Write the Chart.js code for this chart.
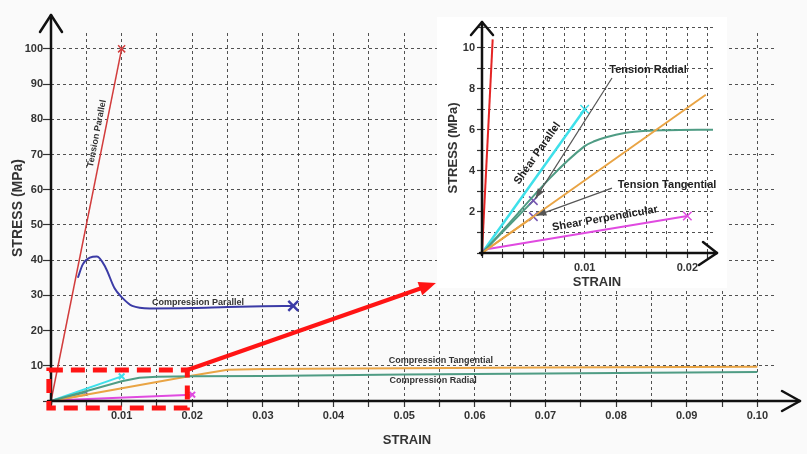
<!DOCTYPE html>
<html>
<head>
<meta charset="utf-8">
<title>Stress-strain curves of wood</title>
<script src="https://cdn.jsdelivr.net/npm/chart.js@4.4.0/dist/chart.umd.min.js"></script>
<style>
  html, body { margin: 0; padding: 0; background: #fafafa; }
  #wrap { position: relative; width: 807px; height: 454px; overflow: hidden; }
  #mainChart { position: absolute; left: 0; top: 0; }
  #insetChart { position: absolute; left: 437px; top: 17px; background: #fff; }
</style>
</head>
<body>
<div id="wrap">
  <canvas id="mainChart" width="807" height="454"></canvas>
  <canvas id="insetChart" width="290" height="271"></canvas>
</div>
<script>
// main chart: strain (-) and stress (MPa)
const tensionParallelStrain = [0, 0.01];
const tensionParallelStress = [0, 100];
const compParallelStrain = [0.0038, 0.0045, 0.0055, 0.0065, 0.0077, 0.009, 0.01, 0.0115, 0.014, 0.02, 0.025, 0.03, 0.0343];
const compParallelStress = [35, 38.8, 40.7, 41, 38, 32, 29.5, 27, 26.3, 26.4, 26.7, 26.9, 27];
const compTangStrain = [0, 0.0195, 0.022, 0.025, 0.03, 0.05, 0.07, 0.1];
const compTangStress = [0, 7.0, 7.9, 8.9, 9.1, 9.3, 9.5, 9.7];
const compRadialStrain = [0, 0.01, 0.0125, 0.015, 0.02, 0.03, 0.05, 0.07, 0.1];
const compRadialStress = [0, 5.6, 6.6, 6.9, 7.0, 7.1, 7.5, 7.8, 8.2];
const shearParallelStrain = [0, 0.01];
const shearParallelStress = [0, 7];
const shearPerpStrain = [0, 0.02];
const shearPerpStress = [0.15, 1.8];
const tensionRadialStrain = [0, 0.005];
const tensionRadialStress = [0, 2.55];
const tensionTangStrain = [0, 0.005];
const tensionTangStress = [0, 1.77];

// inset (zoom of the low strain corner)
const insetTensionParallelStrain = [0, 0.00104];
const insetTensionParallelStress = [0, 10.4];
const insetCompRadialStrain = [0, 0.01, 0.011, 0.012, 0.014, 0.016, 0.018, 0.0225];
const insetCompRadialStress = [0, 5.2, 5.45, 5.62, 5.85, 5.95, 5.98, 6.0];
const insetCompTangStrain = [0, 0.0218];
const insetCompTangStress = [0, 7.7];

const COLORS = {
  red: "#d23c3c",
  blue: "#3b3ba6",
  orange: "#e9a444",
  teal: "#4f9c84",
  cyan: "#3ee0ea",
  magenta: "#e04ae0",
  purple: "#7656b0"
};

Chart.defaults.font.family = "'Liberation Sans', Arial, sans-serif";
Chart.defaults.color = "#333";

function pts(strain, stress) {
  return strain.map((x, i) => ({ x, y: stress[i] }));
}

// X marker on the last point only (failure point)
function endMark(r) {
  return ctx => ctx.dataIndex === ctx.dataset.data.length - 1 ? r : 0;
}

function series(strain, stress, color, width, extra) {
  return Object.assign({
    data: pts(strain, stress),
    showLine: true,
    borderColor: color,
    borderWidth: width,
    pointRadius: 0,
    pointHoverRadius: 0,
    pointStyle: "crossRot",
    pointBorderColor: color,
    pointBorderWidth: 2,
    fill: false,
    clip: false
  }, extra || {});
}

function drawText(ctx, text, px, py, font, angle, color) {
  ctx.save();
  ctx.translate(px, py);
  ctx.rotate((angle || 0) * Math.PI / 180);
  ctx.font = font;
  ctx.fillStyle = color || "#222";
  ctx.textAlign = "center";
  ctx.textBaseline = "middle";
  ctx.fillText(text, 0, 0);
  ctx.restore();
}

function arrowHead(ctx, fromX, fromY, tipX, tipY, len, half) {
  const a = Math.atan2(tipY - fromY, tipX - fromX);
  ctx.beginPath();
  ctx.moveTo(tipX, tipY);
  ctx.lineTo(tipX - len * Math.cos(a) + half * Math.sin(a), tipY - len * Math.sin(a) - half * Math.cos(a));
  ctx.lineTo(tipX - len * Math.cos(a) - half * Math.sin(a), tipY - len * Math.sin(a) + half * Math.cos(a));
  ctx.closePath();
  ctx.fill();
}

const gridColor = "rgba(50,50,50,0.85)";
const tickFont = { size: 11, weight: "bold" };

// ---------- main chart ----------
const mainDecor = {
  id: "mainDecor",
  afterDraw(chart) {
    const { ctx, scales: { x, y } } = chart;
    const x0 = x.getPixelForValue(0);
    const y0 = y.getPixelForValue(0);
    ctx.save();
    ctx.strokeStyle = "#111";
    ctx.lineWidth = 2.5;
    ctx.lineCap = "round";
    ctx.lineJoin = "round";
    ctx.beginPath(); ctx.moveTo(x0, y0 + 3); ctx.lineTo(x0, 15); ctx.stroke();
    ctx.beginPath(); ctx.moveTo(x0 - 11, 32); ctx.lineTo(x0, 15); ctx.lineTo(x0 + 11, 32); ctx.stroke();
    ctx.beginPath(); ctx.moveTo(x0 - 3, y0); ctx.lineTo(800, y0); ctx.stroke();
    ctx.beginPath(); ctx.moveTo(782, y0 - 10); ctx.lineTo(800, y0); ctx.lineTo(782, y0 + 10); ctx.stroke();
    ctx.restore();

    drawText(ctx, "STRAIN", 407, 440, "bold 13px 'Liberation Sans', Arial", 0, "#333");
    drawText(ctx, "STRESS (MPa)", 18, 208, "bold 14px 'Liberation Sans', Arial", -90, "#333");

    const f9 = "bold 9px 'Liberation Sans', Arial";
    drawText(ctx, "Tension Parallel", x.getPixelForValue(0.0065), y.getPixelForValue(76), f9, -79, "#333");
    drawText(ctx, "Compression Parallel", x.getPixelForValue(0.0208), y.getPixelForValue(28.1), f9, 0, "#333");
    drawText(ctx, "Compression Tangential", x.getPixelForValue(0.0552), y.getPixelForValue(11.6), f9, 0, "#333");
    drawText(ctx, "Compression Radial", x.getPixelForValue(0.0541), y.getPixelForValue(5.7), f9, 0, "#333");

    // red zoom box and arrow to the inset
    const bx0 = x.getPixelForValue(-0.0003), bx1 = x.getPixelForValue(0.0193);
    const by0 = y.getPixelForValue(8.8), by1 = y.getPixelForValue(-2.0);
    ctx.save();
    ctx.strokeStyle = "#ff1414";
    ctx.fillStyle = "#ff1414";
    ctx.lineWidth = 5;
    ctx.setLineDash([14, 8]);
    ctx.strokeRect(bx0, by0, bx1 - bx0, by1 - by0);
    ctx.setLineDash([]);
    ctx.lineWidth = 4;
    const tx = x.getPixelForValue(0.0545), ty = y.getPixelForValue(33.5);
    const a = Math.atan2(ty - by0, tx - bx1);
    ctx.beginPath();
    ctx.moveTo(bx1, by0);
    ctx.lineTo(tx - 12 * Math.cos(a), ty - 12 * Math.sin(a));
    ctx.stroke();
    arrowHead(ctx, bx1, by0, tx, ty, 17, 7);
    ctx.restore();
  }
};

new Chart(document.getElementById("mainChart"), {
  type: "scatter",
  data: {
    datasets: [
      series(compRadialStrain, compRadialStress, COLORS.teal, 2),
      series(compTangStrain, compTangStress, COLORS.orange, 2),
      series(shearPerpStrain, shearPerpStress, COLORS.magenta, 2, { pointRadius: endMark(4) }),
      series(shearParallelStrain, shearParallelStress, COLORS.cyan, 2, { pointRadius: endMark(4) }),
      series(tensionRadialStrain, tensionRadialStress, COLORS.teal, 2, { pointRadius: endMark(2), pointBorderColor: COLORS.purple, pointBorderWidth: 1 }),
      series(tensionTangStrain, tensionTangStress, COLORS.orange, 2, { pointRadius: endMark(2), pointBorderColor: COLORS.purple, pointBorderWidth: 1 }),
      series(compParallelStrain, compParallelStress, COLORS.blue, 2, { cubicInterpolationMode: "monotone", pointRadius: endMark(7), pointBorderWidth: 2.5 }),
      series(tensionParallelStrain, tensionParallelStress, COLORS.red, 1.5, { pointRadius: endMark(5), pointBorderWidth: 1.5 })
    ]
  },
  options: {
    responsive: false,
    animation: false,
    devicePixelRatio: 1,
    layout: { padding: { top: 33, right: 32, left: 0, bottom: 0 } },
    plugins: { legend: { display: false }, tooltip: { enabled: false } },
    scales: {
      x: {
        type: "linear",
        min: 0,
        max: 0.1025,
        afterFit: s => { s.height = 53; },
        border: { display: false, dash: [3, 3] },
        grid: { color: gridColor, lineWidth: 1, tickLength: 6, tickColor: "#333", tickWidth: 1.2 },
        ticks: {
          stepSize: 0.005,
          includeBounds: false,
          autoSkip: false,
          maxRotation: 0,
          padding: 2,
          font: tickFont,
          color: "#333",
          callback: v => {
            const h = v * 100;
            return v > 0 && Math.abs(h - Math.round(h)) < 1e-6 ? v.toFixed(2) : "";
          }
        }
      },
      y: {
        type: "linear",
        min: 0,
        max: 104.5,
        afterFit: s => { s.width = 51; },
        border: { display: false, dash: [3, 3] },
        grid: { color: gridColor, lineWidth: 1, tickLength: 8, tickColor: "#333", tickWidth: 1.2 },
        ticks: {
          stepSize: 10,
          includeBounds: false,
          autoSkip: false,
          padding: 0,
          font: tickFont,
          color: "#333",
          callback: v => v > 0 ? v : ""
        }
      }
    }
  },
  plugins: [mainDecor]
});

// ---------- inset chart ----------
const insetDecor = {
  id: "insetDecor",
  afterDraw(chart) {
    const { ctx, scales: { x, y } } = chart;
    const x0 = x.getPixelForValue(0);
    const y0 = y.getPixelForValue(0);
    ctx.save();
    ctx.strokeStyle = "#111";
    ctx.lineWidth = 2.5;
    ctx.lineCap = "round";
    ctx.lineJoin = "round";
    ctx.beginPath(); ctx.moveTo(x0, y0 + 2); ctx.lineTo(x0, 5); ctx.stroke();
    ctx.beginPath(); ctx.moveTo(x0 - 11, 18); ctx.lineTo(x0, 5); ctx.lineTo(x0 + 11, 18); ctx.stroke();
    ctx.beginPath(); ctx.moveTo(x0 - 2, y0); ctx.lineTo(280, y0); ctx.stroke();
    ctx.beginPath(); ctx.moveTo(266, y0 - 11); ctx.lineTo(280, y0); ctx.lineTo(262, y0 + 12); ctx.stroke();
    ctx.restore();

    drawText(ctx, "STRAIN", 160, 265, "bold 13px 'Liberation Sans', Arial", 0, "#333");
    drawText(ctx, "STRESS (MPa)", 16, 131, "bold 13px 'Liberation Sans', Arial", -90, "#333");

    const f11 = "bold 11px 'Liberation Sans', Arial";
    drawText(ctx, "Tension Radial", x.getPixelForValue(0.01617), y.getPixelForValue(8.91), f11, 0);
    drawText(ctx, "Tension Tangential", x.getPixelForValue(0.01802), y.getPixelForValue(3.31), f11, 0);
    drawText(ctx, "Shear Parallel", x.getPixelForValue(0.0054), y.getPixelForValue(4.85), f11, -55);
    drawText(ctx, "Shear Perpendicular", x.getPixelForValue(0.01198), y.getPixelForValue(1.68), f11, -10);

    // leader lines from the labels to the tension failure points
    const leaders = [
      [0.01266, 8.52, 0.0052, 2.65],
      [0.01266, 3.16, 0.0053, 1.82]
    ];
    ctx.save();
    ctx.strokeStyle = "#555";
    ctx.fillStyle = "#555";
    ctx.lineWidth = 1.2;
    leaders.forEach(([sx, sy, ex, ey]) => {
      const px1 = x.getPixelForValue(sx), py1 = y.getPixelForValue(sy);
      const px2 = x.getPixelForValue(ex), py2 = y.getPixelForValue(ey);
      ctx.beginPath(); ctx.moveTo(px1, py1); ctx.lineTo(px2, py2); ctx.stroke();
      arrowHead(ctx, px1, py1, px2, py2, 10, 3.5);
    });
    ctx.restore();
  }
};

new Chart(document.getElementById("insetChart"), {
  type: "scatter",
  data: {
    datasets: [
      series(insetCompTangStrain, insetCompTangStress, COLORS.orange, 2),
      series(insetCompRadialStrain, insetCompRadialStress, COLORS.teal, 2, { cubicInterpolationMode: "monotone" }),
      series(shearPerpStrain, shearPerpStress, COLORS.magenta, 2, { pointRadius: endMark(6), pointBorderWidth: 1.5 }),
      series(shearParallelStrain, shearParallelStress, COLORS.cyan, 2.5, { pointRadius: endMark(6), pointBorderWidth: 1.5 }),
      series(tensionRadialStrain, tensionRadialStress, COLORS.teal, 2, { pointRadius: endMark(6), pointBorderColor: COLORS.purple, pointBorderWidth: 1.5 }),
      series(tensionTangStrain, tensionTangStress, COLORS.orange, 2, { pointRadius: endMark(6), pointBorderColor: COLORS.purple, pointBorderWidth: 1.5 }),
      series(insetTensionParallelStrain, insetTensionParallelStress, "#e42424", 2)
    ]
  },
  options: {
    responsive: false,
    animation: false,
    devicePixelRatio: 1,
    layout: { padding: { top: 10, right: 14, left: 0, bottom: 0 } },
    plugins: { legend: { display: false }, tooltip: { enabled: false } },
    scales: {
      x: {
        type: "linear",
        min: 0,
        max: 0.0225,
        afterFit: s => { s.height = 35; },
        border: { display: false, dash: [3, 3] },
        grid: { color: gridColor, lineWidth: 1, tickLength: 5, tickColor: "#333", tickWidth: 1.2 },
        ticks: {
          stepSize: 0.002,
          includeBounds: false,
          autoSkip: false,
          maxRotation: 0,
          padding: 3,
          font: tickFont,
          color: "#333",
          callback: v => {
            const h = v * 100;
            return v > 0 && Math.abs(h - Math.round(h)) < 1e-6 ? v.toFixed(2) : "";
          }
        }
      },
      y: {
        type: "linear",
        min: 0,
        max: 11,
        afterFit: s => { s.width = 45; },
        border: { display: false, dash: [3, 3] },
        grid: { color: gridColor, lineWidth: 1, tickLength: 5, tickColor: "#333", tickWidth: 1.2 },
        ticks: {
          stepSize: 1,
          includeBounds: false,
          autoSkip: false,
          padding: 2,
          font: tickFont,
          color: "#333",
          callback: v => v > 0 && v % 2 === 0 ? v : ""
        }
      }
    }
  },
  plugins: [insetDecor]
});
</script>
</body>
</html>
